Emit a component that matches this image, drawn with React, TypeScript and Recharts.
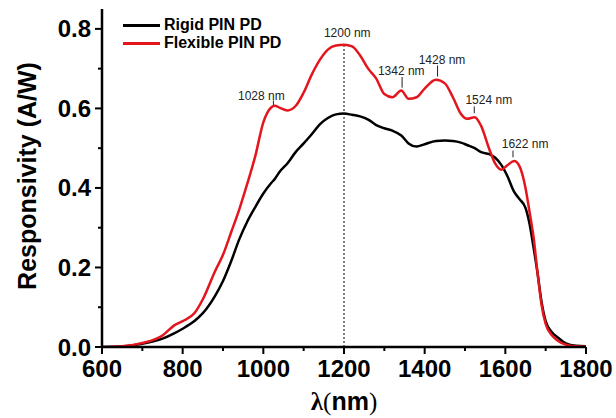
import React from 'react';
import {
  LineChart, Line, XAxis, YAxis, ReferenceLine, ReferenceDot,
} from 'recharts';

const wavelength = [
  600, 650, 700, 750, 780, 800, 830, 850, 880, 900, 920, 940, 960, 980, 1000, 1020, 1028, 1040, 1060, 1080,
  1100, 1120, 1140, 1160, 1180, 1200, 1220, 1240, 1260, 1280, 1300, 1320, 1342, 1360, 1380, 1400, 1428, 1450,
  1470, 1490, 1505, 1524, 1540, 1560, 1575, 1590, 1605, 1622, 1635, 1650, 1660, 1670, 1680, 1690, 1700, 1715,
  1730, 1750, 1775, 1800,
];

const rigid = [
  0, 0.001, 0.008, 0.021, 0.035, 0.046, 0.066, 0.085, 0.128, 0.166, 0.215, 0.27, 0.315, 0.352, 0.386, 0.413, 0.422, 0.44, 0.462, 0.49,
  0.512, 0.535, 0.56, 0.576, 0.585, 0.587, 0.584, 0.58, 0.572, 0.558, 0.55, 0.544, 0.532, 0.512, 0.504, 0.51, 0.518, 0.519,
  0.518, 0.514, 0.508, 0.5, 0.49, 0.485, 0.476, 0.458, 0.43, 0.39, 0.372, 0.35, 0.31, 0.25, 0.185, 0.112, 0.065, 0.038,
  0.024, 0.009, 0.003, 0.002,
];

const flexible = [
  0, 0.002, 0.01, 0.029, 0.055, 0.065, 0.086, 0.12, 0.19, 0.232, 0.288, 0.345, 0.41, 0.48, 0.565, 0.603, 0.607, 0.602, 0.595, 0.606,
  0.64, 0.685, 0.722, 0.748, 0.758, 0.76, 0.756, 0.733, 0.7, 0.675, 0.636, 0.628, 0.645, 0.624, 0.628, 0.65, 0.672, 0.663,
  0.628, 0.586, 0.574, 0.578, 0.556, 0.498, 0.461, 0.446, 0.457, 0.468, 0.455, 0.4, 0.34, 0.276, 0.185, 0.105, 0.058, 0.03,
  0.016, 0.006, 0.002, 0.001,
];

const xTicks = [600, 700, 800, 900, 1000, 1100, 1200, 1300, 1400, 1500, 1600, 1700, 1800];
const yTicks = [0, 0.1, 0.2, 0.3, 0.4, 0.5, 0.6, 0.7, 0.8];

// peak annotations: label position, tick mark x and its y range
const peakLabels = ['1028 nm', '1342 nm', '1428 nm', '1524 nm', '1622 nm'];
const peakLabelX = [995, 1342, 1443, 1559, 1649];
const peakLabelY = [0.632, 0.693, 0.723, 0.62, 0.511];
const peakTickX = [1025, 1344, 1432, 1523, 1619];
const peakTickY0 = [0.605, 0.652, 0.68, 0.588, 0.477];
const peakTickY1 = [0.62, 0.679, 0.708, 0.605, 0.494];

const data = wavelength.map((w, i) => ({ w, rigid: rigid[i], flexible: flexible[i] }));

const RED = '#e3161e';
const SANS = 'Liberation Sans, Arial, sans-serif';

const YTick = (props: any) => {
  const { x, y, payload } = props;
  const major = Math.round(payload.value * 10) % 2 === 0;
  return (
    <g>
      <line x1={x} x2={x - (major ? 7 : 4)} y1={y} y2={y} stroke="#000" strokeWidth={2} />
      {major && (
        <text x={x - 11} y={y} textAnchor="end" dominantBaseline="central"
          style={{ fontFamily: SANS, fontWeight: 700, fontSize: 24 }} fill="#000">
          {payload.value.toFixed(1)}
        </text>
      )}
    </g>
  );
};

const XTick = (props: any) => {
  const { x, y, payload } = props;
  const major = payload.value % 200 === 0;
  return (
    <g>
      <line x1={x} x2={x} y1={y} y2={y + (major ? 7 : 4)} stroke="#000" strokeWidth={2} />
      {major && (
        <text x={x} y={y + 21} textAnchor="middle" dominantBaseline="central"
          style={{ fontFamily: SANS, fontWeight: 700, fontSize: 24 }} fill="#000">
          {payload.value}
        </text>
      )}
    </g>
  );
};

const TopTick = (props: any) => {
  const { x, y } = props;
  return <line x1={x} x2={x} y1={y} y2={y + 3} stroke="#000" strokeWidth={1} />;
};

const LegendBox = () => (
  <div style={{ position: 'absolute', left: 123, top: 16, fontFamily: SANS, fontWeight: 700, fontSize: 16, color: '#000' }}>
    {[{ name: 'Rigid PIN PD', color: '#000' }, { name: 'Flexible PIN PD', color: RED }].map((it) => (
      <div key={it.name} style={{ display: 'flex', alignItems: 'center', height: 18 }}>
        <div style={{ width: 37, height: 3, background: it.color, marginRight: 4 }} />
        <span>{it.name}</span>
      </div>
    ))}
  </div>
);

export default function App() {
  return (
    <div style={{ position: 'absolute', left: 0, top: 0, width: 616, height: 418, background: '#fff' }}>
      <LineChart width={616} height={418} data={data} margin={{ top: 9, right: 30, bottom: 0, left: 0 }}>
        <XAxis xAxisId="bottom" dataKey="w" type="number" domain={[600, 1800]} ticks={xTicks}
          interval={0} height={71} tickSize={0} tickMargin={0} tickLine={false}
          axisLine={{ stroke: '#000', strokeWidth: 2.5 }} tick={<XTick />}
          label={{
            content: (p: any) => (
              <text x={p.viewBox.x + p.viewBox.width / 2} y={401} textAnchor="middle"
                dominantBaseline="central" fill="#000" style={{ fontSize: 25, fontWeight: 700 }}>
                <tspan style={{ fontFamily: 'Liberation Serif, serif' }}>λ</tspan>
                <tspan style={{ fontFamily: 'Liberation Serif, serif', fontWeight: 400 }}>(</tspan>
                <tspan style={{ fontFamily: SANS }}>nm</tspan>
                <tspan style={{ fontFamily: 'Liberation Serif, serif', fontWeight: 400 }}>)</tspan>
              </text>
            ),
          }} />
        <XAxis xAxisId="top" orientation="top" dataKey="w" type="number" domain={[600, 1800]} ticks={xTicks}
          interval={0} height={0} tickSize={0} tickMargin={0} tickLine={false}
          axisLine={{ stroke: '#000', strokeWidth: 1.5 }} tick={<TopTick />} />
        <YAxis yAxisId="left" type="number" domain={[0, 0.85]} ticks={yTicks} interval={0} width={102}
          tickSize={0} tickMargin={0} tickLine={false} allowDataOverflow
          axisLine={{ stroke: '#000', strokeWidth: 2.5 }} tick={<YTick />}
          label={{
            content: () => (
              <text x={27} y={176} transform="rotate(-90 27 176)" textAnchor="middle" dominantBaseline="central"
                fill="#000" style={{ fontFamily: SANS, fontWeight: 700, fontSize: 25 }}>
                Responsivity (A/W)
              </text>
            ),
          }} />
        <YAxis yAxisId="right" orientation="right" type="number" domain={[0, 0.85]} width={0}
          tick={false} tickLine={false} axisLine={{ stroke: '#000', strokeWidth: 2.5 }} />

        <ReferenceLine xAxisId="bottom" yAxisId="left" segment={[{ x: 1200, y: 0 }, { x: 1200, y: 0.758 }]}
          stroke="#000" strokeWidth={1} strokeDasharray="2 2" />
        <ReferenceDot xAxisId="bottom" yAxisId="left" x={1208} y={0.79} r={0}
          shape={(p: any) => (
            <text x={p.cx} y={p.cy} textAnchor="middle" dominantBaseline="central" fill="#222"
              style={{ fontFamily: SANS, fontSize: 12 }}>1200 nm</text>
          )} />
        {peakLabels.map((lab, i) => (
          <ReferenceLine key={'t' + lab} xAxisId="bottom" yAxisId="left"
            segment={[{ x: peakTickX[i], y: peakTickY0[i] }, { x: peakTickX[i], y: peakTickY1[i] }]}
            stroke="#222" strokeWidth={1} />
        ))}
        {peakLabels.map((lab, i) => (
          <ReferenceDot key={'l' + lab} xAxisId="bottom" yAxisId="left" x={peakLabelX[i]} y={peakLabelY[i]} r={0}
            shape={(p: any) => (
              <text x={p.cx} y={p.cy} textAnchor="middle" dominantBaseline="central" fill="#222"
                style={{ fontFamily: SANS, fontSize: 12 }}>{lab}</text>
            )} />
        ))}

        <Line xAxisId="bottom" yAxisId="left" type="monotone" dataKey="rigid" stroke="#000" strokeWidth={2.5}
          dot={false} isAnimationActive={false} />
        <Line xAxisId="bottom" yAxisId="left" type="monotone" dataKey="flexible" stroke={RED} strokeWidth={2.5}
          dot={false} isAnimationActive={false} />
      </LineChart>
      <LegendBox />
    </div>
  );
}
